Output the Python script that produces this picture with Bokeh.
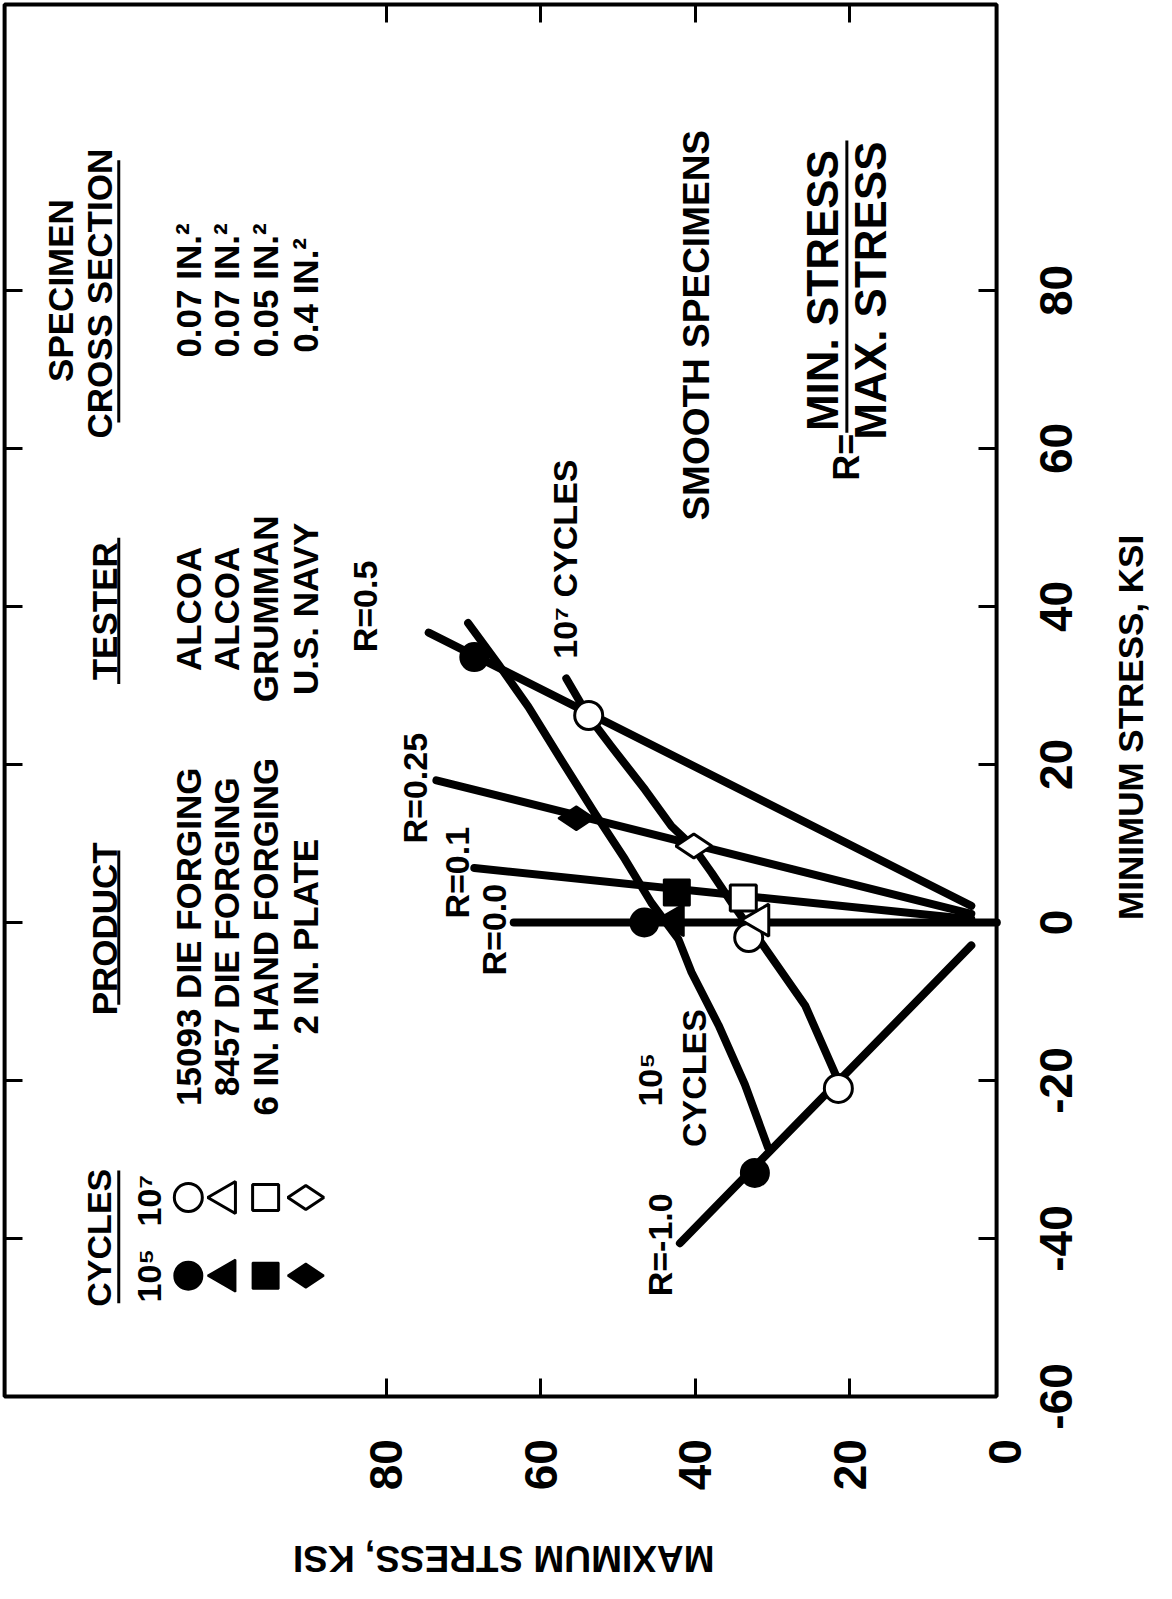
import math
from bokeh.plotting import figure
from bokeh.models import Range1d, LinearAxis, FixedTicker, ColumnDataSource
from bokeh.core.properties import value
from bokeh.embed import file_html
from bokeh.resources import INLINE

# ---------------- data (ksi) ----------------
max_stress_ticks = [0, 20, 40, 60, 80]
max_stress_tick_labels = ["0", "20", "40", "60", "80"]
min_stress_ticks = [-60, -40, -20, 0, 20, 40, 60, 80]
min_stress_tick_labels = ["-60", "-40", "-20", "0", "20", "40", "60", "80"]

products = ["15093 DIE FORGING", "8457 DIE FORGING", "6 IN. HAND FORGING", "2 IN. PLATE"]
testers = ["ALCOA", "ALCOA", "GRUMMAN", "U.S. NAVY"]
sections = ["0.07 IN.²", "0.07 IN.²", "0.05 IN.²", "0.4  IN.²"]
marker_kinds = ["circle", "triangle", "square", "diamond"]

# test points: (maximum stress, minimum stress)
# 15093 die forging (circles)
circ_max_1e5 = [68.6, 46.6, 32.3]
circ_min_1e5 = [33.6, 0.0, -31.7]
circ_max_1e7 = [53.8, 33.1, 21.5]
circ_min_1e7 = [26.2, -1.9, -21.0]
# 8457 die forging (triangles)
tri_max_1e5 = [42.7]
tri_min_1e5 = [0.3]
tri_max_1e7 = [31.7]
tri_min_1e7 = [0.3]
# 6 in. hand forging (squares)
sq_max_1e5 = [42.4]
sq_min_1e5 = [3.8]
sq_max_1e7 = [33.8]
sq_min_1e7 = [3.1]
# 2 in. plate (diamonds)
dia_max_1e5 = [55.4]
dia_min_1e5 = [13.2]
dia_max_1e7 = [40.2]
dia_min_1e7 = [9.7]

# constant stress-ratio lines (end points)
r_line_names = ["R=0.5", "R=0.25", "R=0.1", "R=0.0", "R=-1.0"]
r_line_max = [[4.3, 74.5], [4.3, 73.5], [4.3, 68.6], [1.0, 63.5], [4.3, 42.0]]
r_line_min = [[2.1, 36.7], [1.1, 18.0], [0.4, 6.9], [0.0, 0.0], [-2.9, -40.6]]

# fatigue-strength curves
curve_1e5_max = [69.4, 65.5, 61.6, 57.3, 53.0, 49.1, 45.7, 42.2, 40.5, 37.0, 33.6, 30.6]
curve_1e5_min = [37.9, 32.7, 27.3, 20.5, 13.8, 8.0, 2.5, -2.1, -6.3, -13.0, -20.5, -28.5]
curve_1e7_max = [56.7, 53.9, 50.8, 46.5, 43.1, 40.3, 37.9, 35.3, 33.2, 31.8, 28.8, 25.8, 21.3]
curve_1e7_min = [30.9, 26.2, 22.2, 16.8, 12.2, 9.6, 6.3, 2.5, -0.4, -2.1, -6.3, -10.5, -20.5]

# ---------------- layout constants (ksi units of the chart) ----------------
BOX_L, BOX_R = 129.37, 1.03      # drawn frame, maximum-stress direction
BOX_B, BOX_T = -60.0, 116.2      # drawn frame, minimum-stress direction

FONT_NAME = "Liberation Sans"
FONT = value(FONT_NAME)

# the plotting frame fills the whole canvas; the chart's box is drawn inside it
p = figure(width=1156, height=1583,
           x_range=Range1d(129.9, -19.66), y_range=Range1d(-83.67, 116.71),
           output_backend="svg", toolbar_location=None,
           x_axis_location=None, y_axis_location=None,
           min_border_left=0, min_border_right=0,
           min_border_top=0, min_border_bottom=0)
p.background_fill_color = "white"
p.border_fill_color = "white"
p.outline_line_color = None
for g in p.grid:
    g.visible = False


def tick_axis(ticks, loc, side):
    ax = LinearAxis(ticker=FixedTicker(ticks=ticks), fixed_location=loc)
    ax.axis_line_color = None
    ax.major_tick_in = 18
    ax.major_tick_out = 0
    ax.major_tick_line_width = 3
    ax.major_tick_line_color = "black"
    ax.minor_tick_line_color = None
    ax.major_label_text_font_size = "0px"
    ax.major_label_standoff = 0
    p.add_layout(ax, side)


tick_axis(max_stress_ticks[1:], BOX_B, "below")
tick_axis(max_stress_ticks[1:], BOX_T, "above")
tick_axis(min_stress_ticks[1:], BOX_R, "right")
tick_axis(min_stress_ticks[1:], BOX_L, "left")

# chart box
p.quad(left=[BOX_L], right=[BOX_R], bottom=[BOX_B], top=[BOX_T],
       fill_color=None, line_color="black", line_width=4)


def rtext(xs, ys, texts, size="35px", align="center", angle=math.pi / 2):
    src = ColumnDataSource(dict(x=xs, y=ys, t=texts))
    p.text("x", "y", "t", source=src, angle=angle, text_font=FONT,
           text_font_style="bold", text_font_size=size, text_color="black",
           text_align=align, text_baseline="middle")


# tick labels (reading upward, as on the rotated page)
rtext(max_stress_ticks, [-65.4] * len(max_stress_ticks), max_stress_tick_labels,
      size="46px", align="right")
rtext([-6.6] * len(min_stress_ticks), min_stress_ticks, min_stress_tick_labels,
      size="46px")

# axis titles
rtext([-16.3], [24.7], ["MINIMUM STRESS, KSI"], size="35px")
rtext([64.8], [-80.5], ["MAXIMUM STRESS, KSI"], size="37px", angle=math.pi)

# ---------------- lines ----------------
LW = 8
p.multi_line(xs=r_line_max, ys=r_line_min, line_color="black", line_width=LW,
             line_cap="round")
p.line(curve_1e5_max, curve_1e5_min, line_color="black", line_width=LW,
       line_cap="round", line_join="round")
p.line(curve_1e7_max, curve_1e7_min, line_color="black", line_width=LW,
       line_cap="round", line_join="round")

# ---------------- markers ----------------
sizes = {"circle": 28, "triangle": 32, "square": 26, "diamond": 36}
groups = [
    ("circle", circ_max_1e5, circ_min_1e5, circ_max_1e7, circ_min_1e7),
    ("triangle", tri_max_1e5, tri_min_1e5, tri_max_1e7, tri_min_1e7),
    ("square", sq_max_1e5, sq_min_1e5, sq_max_1e7, sq_min_1e7),
    ("diamond", dia_max_1e5, dia_min_1e5, dia_max_1e7, dia_min_1e7),
]
for kind, mx5, mn5, mx7, mn7 in groups:
    p.scatter(mx5, mn5, marker=kind, size=sizes[kind], angle=math.pi / 2,
              fill_color="black", line_color="black", line_width=2)
    p.scatter(mx7, mn7, marker=kind, size=sizes[kind], angle=math.pi / 2,
              fill_color="white", line_color="black", line_width=3)

# ---------------- legend table (rotated page) ----------------
ROWS = [105.6, 100.7, 95.6, 90.4]      # max-stress position of each table row
LEG_1E5, LEG_1E7 = -44.7, -34.8        # min-stress position of legend columns
for kind, row in zip(marker_kinds, ROWS):
    p.scatter([row], [LEG_1E5], marker=kind, size=sizes[kind], angle=math.pi / 2,
              fill_color="black", line_color="black", line_width=2)
    p.scatter([row], [LEG_1E7], marker=kind, size=sizes[kind], angle=math.pi / 2,
              fill_color="white", line_color="black", line_width=3)

rtext([117.1, 110.7, 110.7], [-39.9, -44.7, -35.2], ["CYCLES", "10⁵", "10⁷"], size="34px")
rtext([116.4, 116.4, 122.2, 117.1], [-0.8, 39.4, 80.0, 79.6],
      ["PRODUCT", "TESTER", "SPECIMEN", "CROSS SECTION"])
rtext(ROWS, [-1.8] * 4, products)
rtext(ROWS, [39.7] * 4, testers)
rtext(ROWS, [80.0] * 4, sections)

# header underlines and fraction bar
p.segment(x0=[114.6, 114.6, 114.6, 114.6, 20.4],
          y0=[-31.4, 9.1, 48.7, 96.5, 99.0],
          x1=[114.6, 114.6, 114.6, 114.6, 20.4],
          y1=[-48.2, -10.4, 30.2, 63.3, 62.0],
          line_color="black", line_width=3)

# line labels and notes
rtext([82.8, 76.3, 70.9, 66.0, 44.6], [40.0, 17.0, 6.3, -0.9, -40.8], r_line_names,
      size="34px")
rtext([56.9], [46.0], ["10⁷ CYCLES"], size="34px")
rtext([45.9, 40.2], [-19.9, -19.7], ["10⁵", "CYCLES"], size="34px")
rtext([39.8], [75.6], ["SMOOTH SPECIMENS"], size="37px")
rtext([23.6, 17.3], [80.0, 80.0], ["MIN. STRESS", "MAX. STRESS"], size="44px")
rtext([20.4], [58.9], ["R="], size="36px")

open("out.html", "w").write(file_html(p, INLINE))
